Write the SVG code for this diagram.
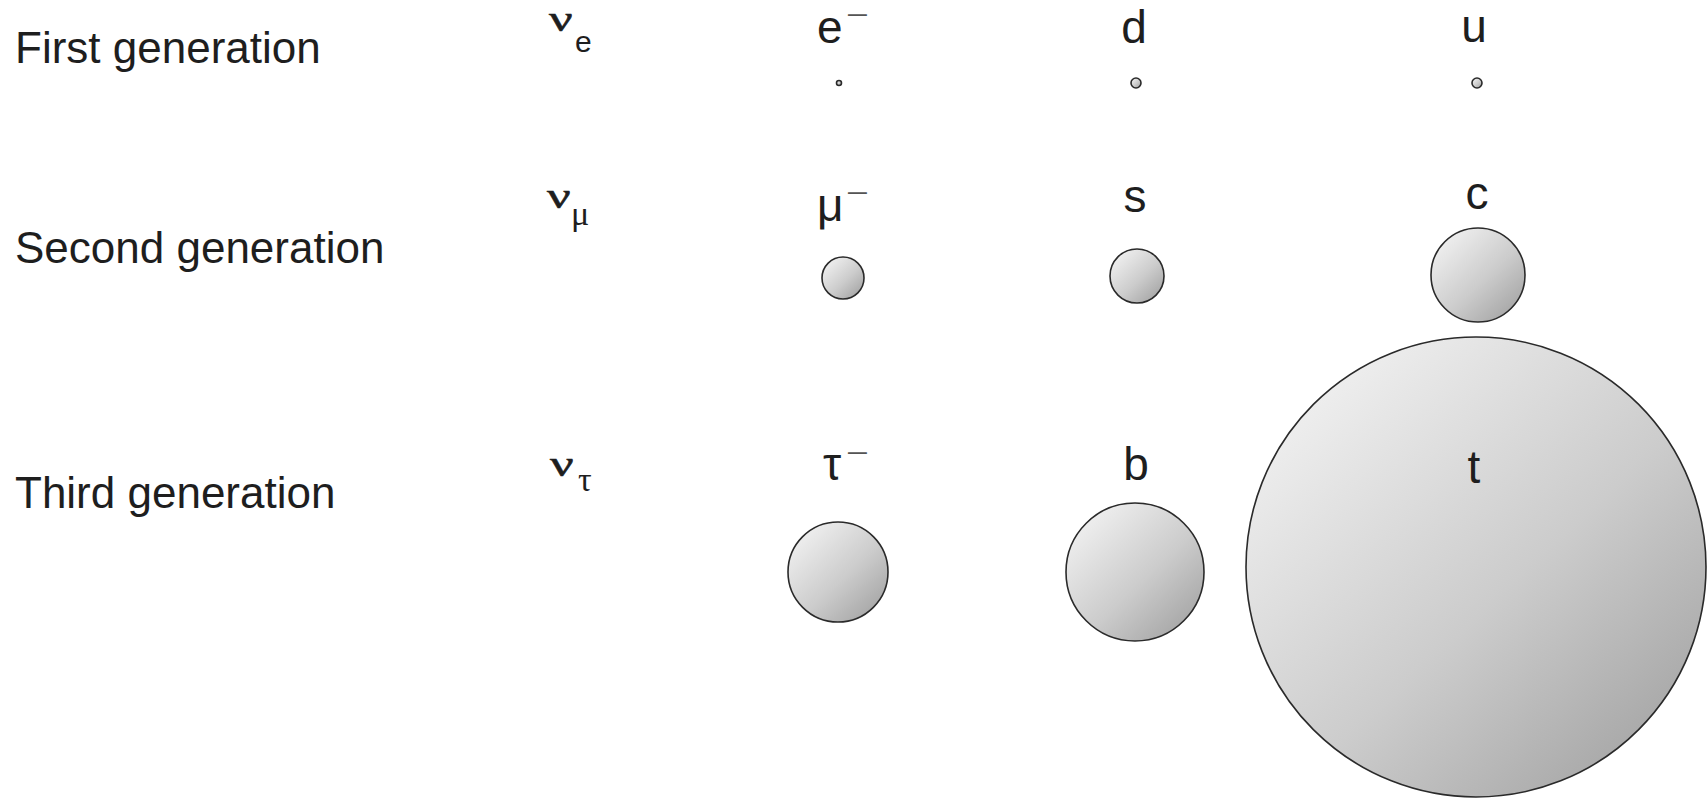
<svg xmlns="http://www.w3.org/2000/svg" width="1707" height="798" viewBox="0 0 1707 798">
<defs>
<linearGradient id="ball" x1="0.1" y1="0.05" x2="0.95" y2="0.95">
<stop offset="0" stop-color="#f3f3f3"/>
<stop offset="0.55" stop-color="#cccccc"/>
<stop offset="1" stop-color="#a0a0a0"/>
</linearGradient>
<style>
.row{font-family:"Liberation Sans",Arial,sans-serif;font-size:44px;fill:#1e1e1e}
.lbl{font-family:"Liberation Sans",Arial,sans-serif;font-size:46px;fill:#1e1e1e}
.nu{font-family:"Liberation Serif","Times New Roman",serif;font-size:36px;fill:#1e1e1e;stroke:#1e1e1e;stroke-width:0.6}
.sub{font-family:"Liberation Serif","Times New Roman",serif;font-size:34px;fill:#1e1e1e}
.subs{font-family:"Liberation Sans",Arial,sans-serif;font-size:30px;fill:#1e1e1e}
.minus{font-family:"Liberation Sans",Arial,sans-serif;font-size:26px;fill:#555}
.ball{fill:url(#ball);stroke:#2a2a2a;stroke-width:1.6}
</style>
</defs>
<rect width="1707" height="798" fill="#ffffff"/>
<g id="row-labels">
<text class="row" x="15" y="63">First generation</text>
<text class="row" x="15" y="263">Second generation</text>
<text class="row" x="15" y="508">Third generation</text>
</g>
<g id="nu-e">
<text class="nu" transform="translate(549,31) scale(1.45,1)">ν</text>
<text class="subs" x="575" y="52">e</text>
</g>
<g id="nu-mu">
<text class="nu" transform="translate(547,208) scale(1.45,1)">ν</text>
<text class="sub" x="571" y="225">μ</text>
</g>
<g id="nu-tau">
<text class="nu" transform="translate(550,476) scale(1.45,1)">ν</text>
<text class="sub" x="578" y="491">τ</text>
</g>
<g id="electron">
<text class="lbl" x="817" y="43" font-size="47">e</text>
<text class="minus" transform="translate(846,24) scale(1.5,1)">−</text>
<circle class="ball" cx="839" cy="83" r="2.5"/>
</g>
<g id="down">
<text class="lbl" x="1134" y="43" text-anchor="middle">d</text>
<circle class="ball" cx="1136" cy="83" r="5"/>
</g>
<g id="up">
<text class="lbl" x="1474" y="42" text-anchor="middle">u</text>
<circle class="ball" cx="1477" cy="83" r="5"/>
</g>
<g id="muon">
<text class="lbl" x="817" y="221">μ</text>
<text class="minus" transform="translate(846,202) scale(1.5,1)">−</text>
<circle class="ball" cx="843" cy="278" r="21"/>
</g>
<g id="strange">
<text class="lbl" x="1135" y="212" text-anchor="middle">s</text>
<circle class="ball" cx="1137" cy="276" r="27"/>
</g>
<g id="charm">
<text class="lbl" x="1477" y="209" text-anchor="middle">c</text>
<circle class="ball" cx="1478" cy="275" r="47"/>
</g>
<g id="tau">
<text class="lbl" x="823" y="480">τ</text>
<text class="minus" transform="translate(846,462) scale(1.5,1)">−</text>
<circle class="ball" cx="838" cy="572" r="50"/>
</g>
<g id="bottom">
<text class="lbl" x="1136" y="480" text-anchor="middle">b</text>
<circle class="ball" cx="1135" cy="572" r="69"/>
</g>
<g id="top">
<circle class="ball" cx="1476" cy="567" r="230"/>
<text class="lbl" x="1474" y="483" text-anchor="middle">t</text>
</g>
</svg>
